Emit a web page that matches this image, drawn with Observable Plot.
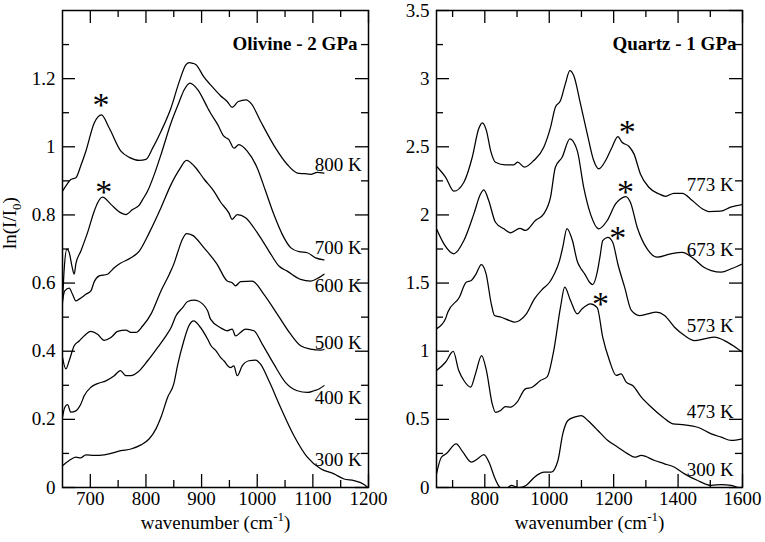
<!DOCTYPE html>
<html><head><meta charset="utf-8">
<script src="https://cdn.jsdelivr.net/npm/d3@7"></script>
<script src="https://cdn.jsdelivr.net/npm/@observablehq/plot@0.6"></script>
<style>
body{margin:0;background:#fff;}
#wrap{position:relative;width:765px;height:542px;overflow:hidden;background:#fff;}
#wrap svg{position:absolute;top:0;overflow:visible;}
</style></head><body><div id="wrap"></div>
<script>
// ---------- Olivine - 2 GPa ----------
const olivineNames = ["800 K","700 K","600 K","500 K","400 K","300 K"];
const olivine800 = [[650,0.870],[658,0.890],[665,0.904],[674,0.909],[683,0.945],[692,0.987],[707,1.070],[720,1.094],[734,1.055],[755,0.987],[770,0.969],[788,0.960],[800,0.963],[812,0.996],[827,1.045],[845,1.114],[860,1.192],[872,1.241],[878,1.247],[884,1.245],[890,1.241],[904,1.205],[917,1.180],[934,1.150],[946,1.133],[955,1.116],[966,1.133],[980,1.138],[990,1.125],[1006,1.075],[1033,0.996],[1054,0.948],[1072,0.923],[1085,0.921],[1096,0.919],[1108,0.925],[1120,0.923]];
const olivine700 = [[650,0.540],[653,0.640],[658,0.700],[662,0.690],[667,0.650],[671,0.626],[674,0.656],[683,0.694],[695,0.748],[707,0.811],[713,0.835],[722,0.852],[737,0.831],[755,0.806],[764,0.801],[776,0.816],[788,0.829],[794,0.845],[803,0.870],[815,0.919],[827,0.977],[845,1.070],[860,1.133],[869,1.168],[879,1.187],[893,1.168],[911,1.114],[916,1.099],[929,1.065],[940,1.031],[949,1.021],[958,0.996],[967,1.006],[982,0.987],[1000,0.938],[1015,0.870],[1030,0.801],[1045,0.743],[1060,0.704],[1075,0.692],[1090,0.689],[1105,0.674],[1120,0.668]];
const olivine600 = [[650,0.548],[654,0.577],[662,0.585],[668,0.567],[674,0.548],[680,0.553],[692,0.567],[701,0.577],[707,0.604],[716,0.621],[731,0.626],[737,0.635],[743,0.645],[754,0.658],[773,0.674],[788,0.694],[806,0.748],[827,0.821],[845,0.889],[860,0.933],[873,0.960],[887,0.943],[905,0.904],[922,0.870],[934,0.838],[949,0.806],[955,0.787],[964,0.801],[979,0.792],[1000,0.748],[1021,0.694],[1039,0.650],[1054,0.635],[1078,0.611],[1096,0.606],[1111,0.616],[1120,0.626]];
const olivine500 = [[650,0.382],[656,0.348],[662,0.372],[671,0.416],[680,0.430],[689,0.445],[701,0.458],[713,0.450],[725,0.432],[737,0.440],[749,0.458],[764,0.462],[773,0.455],[782,0.455],[794,0.474],[809,0.509],[827,0.577],[842,0.626],[851,0.660],[857,0.690],[866,0.730],[873,0.745],[884,0.740],[904,0.704],[928,0.655],[946,0.606],[955,0.601],[961,0.592],[970,0.604],[991,0.606],[1012,0.567],[1036,0.509],[1060,0.450],[1078,0.416],[1096,0.406],[1114,0.403],[1120,0.405]];
const olivine400 = [[650,0.206],[654,0.235],[659,0.243],[665,0.221],[674,0.225],[683,0.245],[689,0.269],[701,0.294],[713,0.305],[728,0.313],[743,0.328],[754,0.343],[764,0.328],[773,0.328],[785,0.338],[803,0.372],[821,0.411],[836,0.445],[845,0.469],[854,0.504],[866,0.528],[875,0.546],[887,0.550],[893,0.548],[911,0.518],[916,0.494],[934,0.469],[946,0.460],[955,0.465],[961,0.445],[970,0.455],[979,0.465],[994,0.460],[1009,0.421],[1030,0.362],[1051,0.308],[1072,0.284],[1090,0.279],[1102,0.284],[1111,0.289],[1120,0.299]];
const olivine300 = [[650,0.064],[662,0.079],[674,0.089],[683,0.087],[692,0.096],[707,0.094],[725,0.096],[737,0.100],[755,0.108],[773,0.113],[791,0.125],[806,0.143],[818,0.172],[827,0.206],[839,0.265],[850,0.304],[857,0.360],[868,0.430],[877,0.474],[886,0.489],[896,0.474],[911,0.435],[917,0.416],[926,0.401],[934,0.382],[940,0.372],[952,0.352],[958,0.357],[964,0.328],[973,0.357],[985,0.372],[997,0.374],[1006,0.362],[1021,0.313],[1042,0.235],[1066,0.152],[1090,0.089],[1114,0.055],[1138,0.040],[1156,0.025],[1174,0.020],[1192,0.009],[1198,0.001]];
const olivineLabelY = [0.946,0.703,0.591,0.425,0.264,0.082];
const olivineStars = [[719,1.133],[724,0.878]];
const olivineXTicks = [700,800,900,1000,1100,1200];
const olivineXMinor = [750,850,950,1050,1150];
const olivineYTicks = [0,0.2,0.4,0.6,0.8,1,1.2];
const olivineYMinor = [0.1,0.3,0.5,0.7,0.9,1.1,1.3];

// ---------- Quartz - 1 GPa ----------
const quartzNames = ["773 K","673 K","573 K","473 K","300 K"];
const quartz773 = [[650,2.357],[678,2.277],[704,2.174],[735,2.240],[761,2.423],[781,2.632],[792,2.676],[805,2.619],[818,2.472],[833,2.387],[864,2.368],[890,2.368],[902,2.387],[923,2.350],[952,2.399],[983,2.497],[1004,2.643],[1019,2.790],[1035,2.839],[1050,2.962],[1064,3.059],[1076,3.023],[1097,2.815],[1118,2.595],[1138,2.399],[1154,2.338],[1175,2.399],[1195,2.497],[1213,2.575],[1226,2.533],[1247,2.504],[1263,2.448],[1283,2.301],[1309,2.203],[1340,2.155],[1361,2.137],[1387,2.159],[1413,2.159],[1444,2.106],[1475,2.045],[1495,2.025],[1532,2.027],[1563,2.057],[1600,2.076]];
const quartz673 = [[650,1.898],[673,1.788],[704,1.715],[735,1.812],[766,2.008],[787,2.155],[797,2.184],[812,2.106],[833,1.946],[859,1.898],[880,1.869],[909,1.902],[926,1.886],[957,1.959],[983,2.008],[1004,2.130],[1019,2.350],[1040,2.423],[1064,2.558],[1087,2.472],[1107,2.203],[1128,2.008],[1154,1.898],[1180,1.959],[1206,2.081],[1219,2.113],[1237,2.135],[1252,2.093],[1273,1.910],[1304,1.751],[1335,1.690],[1377,1.715],[1413,1.726],[1449,1.678],[1480,1.616],[1503,1.592],[1534,1.580],[1565,1.605],[1600,1.641]];
const quartz573 = [[650,1.164],[678,1.238],[685,1.286],[721,1.396],[742,1.506],[758,1.519],[773,1.568],[789,1.636],[804,1.568],[820,1.348],[830,1.262],[851,1.249],[877,1.225],[892,1.213],[908,1.225],[929,1.274],[954,1.384],[980,1.458],[1001,1.506],[1016,1.568],[1032,1.665],[1042,1.763],[1055,1.900],[1072,1.812],[1087,1.660],[1100,1.600],[1110,1.568],[1125,1.506],[1135,1.489],[1149,1.580],[1158,1.700],[1166,1.812],[1182,1.836],[1197,1.800],[1213,1.640],[1234,1.470],[1255,1.299],[1280,1.262],[1306,1.274],[1332,1.286],[1358,1.262],[1389,1.176],[1420,1.115],[1451,1.078],[1482,1.091],[1513,1.103],[1544,1.078],[1570,1.042],[1600,0.993]];
const quartz473 = [[650,0.858],[678,0.919],[702,0.998],[719,0.858],[735,0.785],[756,0.736],[771,0.834],[790,0.968],[805,0.858],[823,0.614],[833,0.552],[849,0.565],[864,0.594],[880,0.589],[900,0.626],[926,0.724],[947,0.736],[973,0.785],[994,0.814],[1014,1.005],[1035,1.323],[1048,1.470],[1066,1.372],[1087,1.274],[1102,1.311],[1128,1.348],[1149,1.320],[1166,1.103],[1187,0.932],[1208,0.822],[1223,0.834],[1239,0.773],[1259,0.748],[1286,0.663],[1317,0.589],[1353,0.516],[1384,0.467],[1420,0.460],[1461,0.442],[1503,0.394],[1534,0.369],[1565,0.345],[1600,0.357]];
const quartz300 = [[650,0.100],[665,0.222],[680,0.247],[711,0.320],[732,0.259],[758,0.186],[778,0.211],[797,0.242],[815,0.174],[830,0.076],[846,0.002],[861,-0.020],[875,0.005],[882,0.015],[905,0.000],[928,0.015],[954,0.076],[985,0.112],[1006,0.112],[1027,0.198],[1042,0.394],[1058,0.492],[1078,0.516],[1099,0.528],[1120,0.492],[1141,0.442],[1151,0.418],[1182,0.345],[1213,0.296],[1244,0.247],[1265,0.222],[1286,0.235],[1327,0.198],[1358,0.174],[1389,0.149],[1420,0.100],[1461,0.051],[1503,0.015],[1534,0.022],[1565,0.015],[1585,0.000]];
const quartzLabelY = [2.221,1.744,1.189,0.552,0.132];
const quartzStars = [[1242,2.639],[1237,2.199],[1213,1.861],[1159,1.372]];
const quartzXTicks = [800,1000,1200,1400,1600];
const quartzXMinor = [700,900,1100,1300,1500];
const quartzYTicks = [0,0.5,1,1.5,2,2.5,3,3.5];
const quartzYMinor = [0.25,0.75,1.25,1.75,2.25,2.75,3.25];

const SERIF = "'Liberation Serif','Times New Roman',serif";
const FS = 19;
const H = 542, MT = 10, MB = 55;

function panel(cfg) {
  const innerH = H - MT - MB;
  const innerW = cfg.width - cfg.ml - cfg.mr;
  const rows = [];
  cfg.series.forEach((pts, i) => pts.forEach(([x, y]) => rows.push({x, y, s: cfg.names[i]})));
  const labels = cfg.names.map((n, i) => ({text: n, x: cfg.labelX, y: cfg.labelY[i]}));
  const stars = cfg.stars.map(([x, y]) => ({x, y}));
  const fmt = d => String(d);
  const major = 13, minor = 7;
  return Plot.plot({
    width: cfg.width, height: H,
    marginLeft: cfg.ml, marginRight: cfg.mr, marginTop: MT, marginBottom: MB,
    style: {fontFamily: SERIF, fontSize: FS + "px", background: "transparent", color: "#000", overflow: "visible"},
    x: {domain: cfg.xDomain, ticks: cfg.xTicks, tickSize: 0, tickPadding: 4, tickFormat: fmt, label: null},
    y: {domain: cfg.yDomain, ticks: cfg.yTicks, tickSize: 0, tickPadding: 7, tickFormat: fmt, label: null},
    marks: [
      Plot.line(rows, {x: "x", y: "y", z: "s", stroke: "#000", strokeWidth: 1.25, curve: "monotone-x", clip: true}),
      Plot.tickX(cfg.xTicks, {x: d => d, insetTop: innerH - major, strokeWidth: 1.3}),
      Plot.tickX(cfg.xTicks, {x: d => d, insetBottom: innerH - major, strokeWidth: 1.3}),
      Plot.tickX(cfg.xMinor, {x: d => d, insetTop: innerH - minor, strokeWidth: 1.3}),
      Plot.tickX(cfg.xMinor, {x: d => d, insetBottom: innerH - minor, strokeWidth: 1.3}),
      Plot.tickY(cfg.yTicks, {y: d => d, insetRight: innerW - major, strokeWidth: 1.3}),
      Plot.tickY(cfg.yTicks, {y: d => d, insetLeft: innerW - major, strokeWidth: 1.3}),
      Plot.tickY(cfg.yMinor, {y: d => d, insetRight: innerW - minor, strokeWidth: 1.3}),
      Plot.tickY(cfg.yMinor, {y: d => d, insetLeft: innerW - minor, strokeWidth: 1.3}),
      Plot.frame({stroke: "#000", strokeWidth: 1.5}),
      Plot.text(labels, {x: "x", y: "y", text: "text", textAnchor: "end", fontSize: FS, fill: "#000"}),
      Plot.text(stars, {x: "x", y: "y", text: () => "*", fontSize: 34, dy: 4, fill: "#000"}),
      Plot.text([cfg.title], {frameAnchor: "top-right", dx: -cfg.titleInset, dy: 26, textAnchor: "end", fontWeight: "bold", fontSize: FS, fill: "#000"}),
      Plot.text(["wavenumber (cm-1)"], {frameAnchor: "bottom", dy: 41, fontSize: FS, fill: "#000"}),
      ...(cfg.ylabel ? [Plot.text([cfg.ylabel], {frameAnchor: "left", rotate: -90, dx: -53, dy: 0, fontSize: FS, fill: "#000"})] : [])
    ]
  });
}

function rich(svg, plain, parts) {
  svg.querySelectorAll("text").forEach(t => {
    if (t.textContent === plain) {
      t.textContent = "";
      parts.forEach(([s, kind]) => {
        const ts = document.createElementNS("http://www.w3.org/2000/svg", "tspan");
        ts.textContent = s;
        if (kind === "sub") { ts.setAttribute("dy", "5"); ts.setAttribute("font-size", "13"); }
        else if (kind === "sup") { ts.setAttribute("dy", "-8"); ts.setAttribute("font-size", "13"); }
        else if (kind === "back-sub") { ts.setAttribute("dy", "-5"); }
        else if (kind === "back-sup") { ts.setAttribute("dy", "8"); }
        t.appendChild(ts);
      });
    }
  });
}

const left = panel({
  width: 380, ml: 62, mr: 12,
  xDomain: [650, 1200], yDomain: [0, 1.4],
  xTicks: olivineXTicks, xMinor: olivineXMinor, yTicks: olivineYTicks, yMinor: olivineYMinor,
  series: [olivine800, olivine700, olivine600, olivine500, olivine400, olivine300],
  names: olivineNames, labelX: 1188, labelY: olivineLabelY, stars: olivineStars,
  title: "Olivine - 2 GPa", titleInset: 11, ylabel: "ln(I/I0)"
});
const right = panel({
  width: 385, ml: 56, mr: 23,
  xDomain: [650, 1600], yDomain: [0, 3.5],
  xTicks: quartzXTicks, xMinor: quartzXMinor, yTicks: quartzYTicks, yMinor: quartzYMinor,
  series: [quartz773, quartz673, quartz573, quartz473, quartz300],
  names: quartzNames, labelX: 1573, labelY: quartzLabelY, stars: quartzStars,
  title: "Quartz - 1 GPa", titleInset: 6, ylabel: null
});
left.style.left = "0px";
right.style.left = "380px";
const wrap = document.getElementById("wrap");
wrap.appendChild(right);
wrap.appendChild(left);
[left, right].forEach(svg => rich(svg, "wavenumber (cm-1)", [["wavenumber (cm"], ["-1", "sup"], [")", "back-sup"]]));
rich(left, "ln(I/I0)", [["ln(I/I"], ["0", "sub"], [")", "back-sub"]]);
</script></body></html>
